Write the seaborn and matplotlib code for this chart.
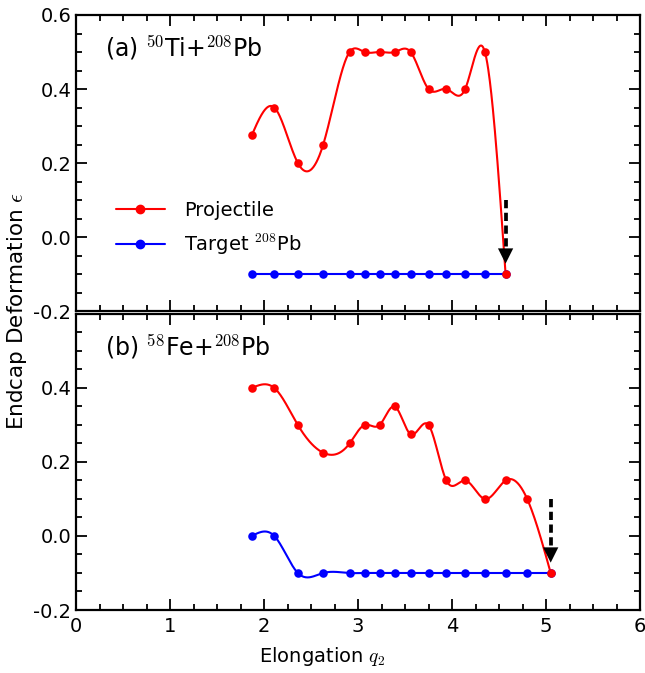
import numpy as np
import pandas as pd
import matplotlib
matplotlib.use("Agg")
import matplotlib.pyplot as plt
from matplotlib.lines import Line2D
from matplotlib.ticker import MultipleLocator
import seaborn as sns

# elongation grid
q2_a = [1.87, 2.11, 2.36, 2.63, 2.91, 3.07, 3.23, 3.39, 3.56, 3.75, 3.94, 4.14, 4.35, 4.57]
q2_b = [1.87, 2.11, 2.36, 2.63, 2.91, 3.07, 3.23, 3.39, 3.56, 3.75, 3.94, 4.14, 4.35, 4.57, 4.80, 5.05]

# (a) 50Ti + 208Pb
proj_a = [0.275, 0.35, 0.20, 0.25, 0.50, 0.50, 0.50, 0.50, 0.50, 0.40, 0.40, 0.40, 0.50, -0.10]
targ_a = [-0.10] * 14

# (b) 58Fe + 208Pb
proj_b = [0.40, 0.40, 0.30, 0.225, 0.25, 0.30, 0.30, 0.35, 0.275, 0.30, 0.15, 0.15, 0.10, 0.15, 0.10, -0.10]
targ_b = [0.0, 0.0] + [-0.10] * 14

panel_labels = [r"(a) $^{50}$Ti+$^{208}$Pb", r"(b) $^{58}$Fe+$^{208}$Pb"]


def natural_spline(x, y, n=500):
    # plain natural cubic spline, only used to draw the smooth curve
    x = np.asarray(x, float)
    y = np.asarray(y, float)
    h = np.diff(x)
    m = len(x)
    A = np.zeros((m, m))
    b = np.zeros(m)
    A[0, 0] = 1
    A[-1, -1] = 1
    for i in range(1, m - 1):
        A[i, i - 1] = h[i - 1]
        A[i, i] = 2 * (h[i - 1] + h[i])
        A[i, i + 1] = h[i]
        b[i] = 3 * ((y[i + 1] - y[i]) / h[i] - (y[i] - y[i - 1]) / h[i - 1])
    c = np.linalg.solve(A, b)
    xs = np.linspace(x[0], x[-1], n)
    idx = np.clip(np.searchsorted(x, xs) - 1, 0, m - 2)
    dx = xs - x[idx]
    hi = h[idx]
    bc = (y[idx + 1] - y[idx]) / hi - hi * (2 * c[idx] + c[idx + 1]) / 3
    dc = (c[idx + 1] - c[idx]) / (3 * hi)
    ys = y[idx] + bc * dx + c[idx] * dx ** 2 + dc * dx ** 3
    return xs, ys


sns.set_style("ticks")
plt.rcParams["font.family"] = ["DejaVu Sans"]
plt.rcParams["mathtext.fontset"] = "cm"
for key in ["text.color", "axes.labelcolor", "xtick.color", "ytick.color", "axes.edgecolor"]:
    plt.rcParams[key] = "black"

fig, axes = plt.subplots(2, 1, figsize=(6.45, 6.73), dpi=100, sharex=True)
fig.subplots_adjust(left=76 / 645, right=640 / 645, top=1 - 15 / 673, bottom=1 - 610 / 673, hspace=0.01)

panels = [(q2_a, proj_a, targ_a), (q2_b, proj_b, targ_b)]
for k, (ax, (q, pr, tg)) in enumerate(zip(axes, panels)):
    for vals, col in [(tg, "blue"), (pr, "red")]:
        xs, ys = natural_spline(q, vals)
        sns.lineplot(x=xs, y=ys, ax=ax, color=col, lw=1.5, estimator=None, sort=False)
        df = pd.DataFrame({"q2": q, "eps": vals})
        sns.scatterplot(data=df, x="q2", y="eps", ax=ax, color=col, s=38, edgecolor=col, linewidth=0, zorder=3)

    # dashed arrow at the scission point
    xa = q[-1]
    ax.plot([xa, xa], [0.10, -0.035], color="black", ls=(0, (2.2, 1.2)), lw=2.7, zorder=4)
    ax.annotate("", xy=(xa, -0.072), xytext=(xa, -0.03),
                arrowprops=dict(arrowstyle="-|>,head_length=1.1,head_width=0.55",
                                color="black", lw=0, shrinkA=0, shrinkB=0), zorder=4)

    ax.text(0.31, 0.51, panel_labels[k], fontsize=17, va="center", ha="left")

    ax.set_xlim(0, 6)
    ax.set_ylim(-0.2, 0.6)
    ax.xaxis.set_major_locator(MultipleLocator(1))
    ax.xaxis.set_minor_locator(MultipleLocator(0.25))
    ax.yaxis.set_minor_locator(MultipleLocator(0.05))
    ax.tick_params(which="both", direction="in", top=True, right=True, width=1.3)
    ax.tick_params(which="major", length=8, labelsize=14)
    ax.tick_params(which="minor", length=4.5)
    for s in ax.spines.values():
        s.set_linewidth(1.6)
    ax.set_xlabel("")
    ax.set_ylabel("")

axes[0].set_yticks([-0.2, 0.0, 0.2, 0.4, 0.6])
axes[0].set_yticklabels(["-0.2", "0.0", "0.2", "0.4", "0.6"])
axes[1].set_yticks([-0.2, 0.0, 0.2, 0.4])
axes[1].set_yticklabels(["-0.2", "0.0", "0.2", "0.4"])
axes[1].set_xticks([0, 1, 2, 3, 4, 5, 6])
axes[1].set_xticklabels(["0", "1", "2", "3", "4", "5", "6"])
axes[1].tick_params(axis="x", pad=5)

handles = [Line2D([], [], color="red", marker="o", ms=6, lw=1.5),
           Line2D([], [], color="blue", marker="o", ms=6, lw=1.5)]
axes[0].legend(handles, ["Projectile", r"Target $^{208}$Pb"], loc="upper left",
               bbox_to_anchor=(0.04, 0.43), frameon=False, fontsize=14,
               handlelength=2.5, handletextpad=1.0, labelspacing=0.6)

fig.text(0.5, 0.008, r"Elongation $q_2$", ha="center", va="bottom", fontsize=14)
fig.text(0.008, 1 - 311 / 673, r"Endcap Deformation $\epsilon$",
         rotation=90, ha="left", va="center", fontsize=15.5)

fig.savefig("out.png", dpi=100)
